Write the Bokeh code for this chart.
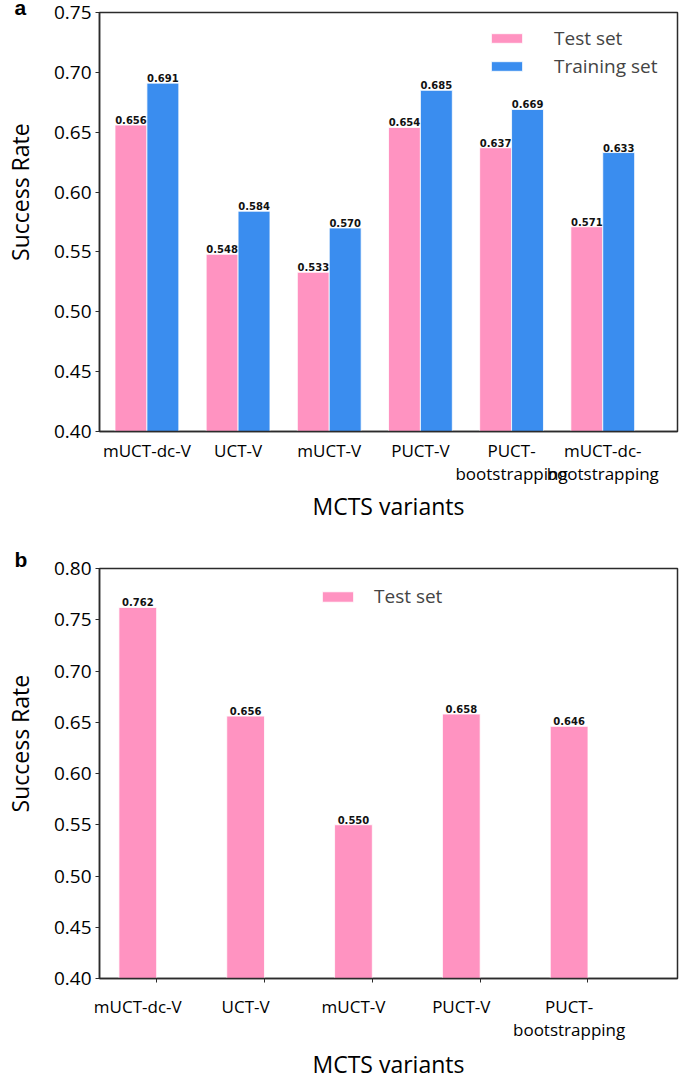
from bokeh.plotting import figure
from bokeh.models import ColumnDataSource, FixedTicker, Range1d, Legend, LegendItem
from bokeh.layouts import column
from bokeh.embed import file_html
from bokeh.resources import INLINE
from bokeh.core.properties import value

# ---------------- data ----------------
variants_a = ["mUCT-dc-V", "UCT-V", "mUCT-V", "PUCT-V",
              "PUCT-\nbootstrapping", "mUCT-dc-\nbootstrapping"]
test_a = [0.656, 0.548, 0.533, 0.654, 0.637, 0.571]
train_a = [0.691, 0.584, 0.570, 0.685, 0.669, 0.633]

variants_b = ["mUCT-dc-V", "UCT-V", "mUCT-V", "PUCT-V", "PUCT-\nbootstrapping"]
test_b = [0.762, 0.656, 0.550, 0.658, 0.646]

yticks_a = [0.40, 0.45, 0.50, 0.55, 0.60, 0.65, 0.70, 0.75]
yticks_b = [0.40, 0.45, 0.50, 0.55, 0.60, 0.65, 0.70, 0.75, 0.80]

PINK = "#ff93c1"
BLUE = "#3a8def"
AXC = "#2b2b2b"
FONT = "Open Sans"
BW = 0.35
PAD = "\u00a0" * 10


def style(p, yticks, panel, standoff):
    p.grid.visible = False
    p.outline_line_color = AXC
    p.outline_line_width = 1.5
    p.title.text = panel
    p.title.align = "left"
    p.title.offset = -85
    p.title.standoff = standoff
    p.title.text_font = "Liberation Sans"
    p.title.text_font_style = "bold"
    p.title.text_font_size = "21px"
    p.title.text_color = "black"
    for ax in (p.xaxis, p.yaxis):
        ax.axis_line_color = AXC
        ax.axis_line_width = 1.5
        ax.major_label_text_font = FONT
        ax.axis_label_text_font = FONT
        ax.axis_label_text_font_style = "normal"
        ax.axis_label_text_color = "black"
        ax.major_label_text_color = "black"
    p.yaxis.ticker = FixedTicker(ticks=yticks, minor_ticks=[])
    p.yaxis.major_label_overrides = {t: f"{t:.2f}" for t in yticks}
    p.yaxis.major_label_text_font_size = "19px"
    p.yaxis.major_tick_out = 4
    p.yaxis.major_tick_in = 0
    p.yaxis.major_tick_line_color = AXC
    p.yaxis.major_label_standoff = 4
    p.yaxis.axis_label = PAD + "Success Rate"
    p.yaxis.axis_label_text_font_size = "23px"
    p.yaxis.axis_label_text_line_height = 1.0
    p.yaxis.axis_label_standoff = 15
    p.xaxis.major_label_text_font_size = "17px"
    p.xaxis.major_label_text_line_height = 1.0
    p.xaxis.axis_label = "MCTS variants"
    p.xaxis.axis_label_text_font_size = "23px"


def value_labels(p, xs, ys):
    src = ColumnDataSource(dict(x=xs, y=ys, t=[f"{v:.3f}" for v in ys]))
    p.text(x="x", y="y", text="t", source=src, text_font=value("DejaVu Sans"),
           text_font_style="bold", text_font_size="10px", text_color="#111111",
           text_align="center", text_baseline="bottom", y_offset=-1)


# ---------------- panel a ----------------
pa = figure(width=681, height=524, output_backend="svg", toolbar_location=None,
            x_range=Range1d(-0.52, 5.82), y_range=Range1d(0.40, 0.75),
            min_border_left=89, min_border_right=4, min_border_top=12, min_border_bottom=92)
style(pa, yticks_a, "a", -13)
ga = list(range(len(variants_a)))
xa_p = [i - BW / 2 for i in ga]
xa_b = [i + BW / 2 for i in ga]
src_ap = ColumnDataSource(dict(x=xa_p, top=test_a))
src_ab = ColumnDataSource(dict(x=xa_b, top=train_a))
r1 = pa.vbar(x="x", top="top", bottom=0.40, width=BW, source=src_ap,
             fill_color=PINK, line_color="white", line_width=0.8)
r2 = pa.vbar(x="x", top="top", bottom=0.40, width=BW, source=src_ab,
             fill_color=BLUE, line_color="white", line_width=0.8)
value_labels(pa, xa_p, test_a)
value_labels(pa, xa_b, train_a)
pa.xaxis.ticker = FixedTicker(ticks=ga, minor_ticks=[])
pa.xaxis.major_label_overrides = {i: v for i, v in zip(ga, variants_a)}
pa.xaxis.major_tick_line_color = None
pa.xaxis.major_tick_out = 0
pa.xaxis.major_label_standoff = 7
pa.xaxis.axis_label_standoff = 2
leg_a = Legend(items=[LegendItem(label="Test set", renderers=[r1]),
                      LegendItem(label="Training set", renderers=[r2])],
               location=(388, 352), border_line_color=None, background_fill_alpha=0,
               padding=0, margin=0, spacing=2, glyph_width=39, glyph_height=12,
               label_height=20, label_standoff=28, label_text_font=FONT,
               label_text_font_size="19px")
pa.add_layout(leg_a)

# ---------------- panel b ----------------
pb = figure(width=681, height=558, output_backend="svg", toolbar_location=None,
            x_range=Range1d(-0.53, 4.83), y_range=Range1d(0.40, 0.80),
            min_border_left=92, min_border_right=2, min_border_top=44, min_border_bottom=104)
style(pb, yticks_b, "b", -4)
gb = list(range(len(variants_b)))
xb_p = [i - BW / 2 for i in gb]
src_bp = ColumnDataSource(dict(x=xb_p, top=test_b))
r3 = pb.vbar(x="x", top="top", bottom=0.40, width=BW, source=src_bp,
             fill_color=PINK, line_color="white", line_width=0.8)
value_labels(pb, xb_p, test_b)
pb.xaxis.ticker = FixedTicker(ticks=xb_p, minor_ticks=gb)
pb.xaxis.major_label_overrides = {x: v for x, v in zip(xb_p, variants_b)}
pb.xaxis.major_tick_line_color = None
pb.xaxis.minor_tick_line_color = AXC
pb.xaxis.minor_tick_out = 4
pb.xaxis.minor_tick_in = 0
pb.xaxis.major_label_standoff = 10
pb.xaxis.axis_label_standoff = 4
leg_b = Legend(items=[LegendItem(label="Test set", renderers=[r3])],
               location=(219, 369), border_line_color=None, background_fill_alpha=0,
               padding=0, margin=0, spacing=2, glyph_width=39, glyph_height=13,
               label_height=20, label_standoff=17, label_text_font=FONT,
               label_text_font_size="19px")
pb.add_layout(leg_b)

layout = column(pa, pb, spacing=0)
open("out.html", "w").write(file_html(layout, INLINE))
